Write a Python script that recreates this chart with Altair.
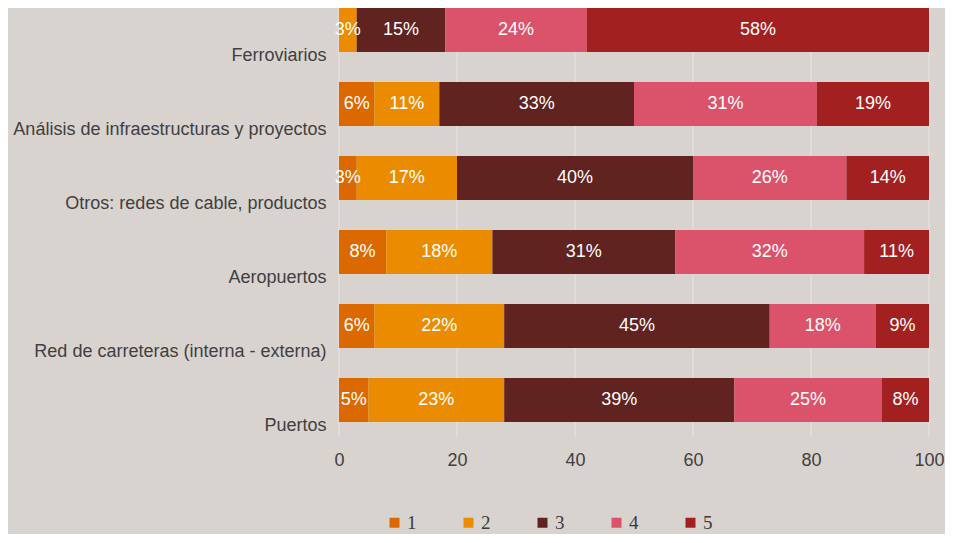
import altair as alt
import pandas as pd

categories = [
    "Ferroviarios",
    "Análisis de infraestructuras y proyectos",
    "Otros: redes de cable, productos",
    "Aeropuertos",
    "Red de carreteras (interna - externa)",
    "Puertos",
]
series = ["1", "2", "3", "4", "5"]
s1 = [0, 6, 3, 8, 6, 5]
s2 = [3, 11, 17, 18, 22, 23]
s3 = [15, 33, 40, 31, 45, 39]
s4 = [24, 31, 26, 32, 18, 25]
s5 = [58, 19, 14, 11, 9, 8]
x_ticks = [0, 20, 40, 60, 80, 100]
colors = ["#dc6900", "#eb8c00", "#602320", "#db536a", "#a32020"]

rows = []
for si, (name, vals) in enumerate(zip(series, [s1, s2, s3, s4, s5])):
    for cat, v in zip(categories, vals):
        rows.append({"category": cat, "series": name, "order": si, "value": v})
df = pd.DataFrame(rows)
grid_df = pd.DataFrame({"t": x_ticks})

FONT = "Liberation Sans"

base = alt.Chart(df).transform_stack(
    stack="value", groupby=["category"], as_=["v0", "v1"],
    sort=[alt.SortField("order", order="ascending")]
)

y_enc = alt.Y(
    "category:N", sort=categories, title=None,
    scale=alt.Scale(paddingInner=0.405, paddingOuter=0),
    axis=alt.Axis(labelOffset=26, labelPadding=13, ticks=False, domain=False,
                  labelFontSize=18, labelFont=FONT, labelColor="#404040",
                  labelLimit=400, grid=False),
)

x_scale = alt.Scale(domain=[0, 100], nice=False)

grid = alt.Chart(grid_df).mark_rule(color="#e3dfdb", strokeWidth=1.5).encode(
    x=alt.X("t:Q", scale=x_scale),
    y=alt.value(0),
    y2=alt.value(429),
)

bars = base.mark_bar().encode(
    x=alt.X("v0:Q", scale=x_scale, title=None,
            axis=alt.Axis(values=x_ticks, grid=False, ticks=False, domain=False,
                          labelFlush=False, labelPadding=29, labelFontSize=18,
                          labelFont=FONT, labelColor="#404040")),
    x2="v1:Q",
    y=y_enc,
    color=alt.Color(
        "series:N", sort=series,
        scale=alt.Scale(domain=series, range=colors),
        legend=alt.Legend(
            title=None, orient="none", direction="horizontal",
            legendX=46, legendY=505, symbolType="square", symbolSize=100,
            symbolStrokeWidth=0, labelFont="Liberation Serif", labelFontSize=19,
            labelColor="#3a3a3a", columnPadding=42, labelOffset=3, padding=0,
        ),
    ),
    order=alt.Order("order:Q"),
)

labels = base.transform_filter("datum.value > 0").transform_calculate(
    mid="(datum.v0 + datum.v1) / 2",
    lab="datum.value + '%'",
).mark_text(color="white", fontSize=18, font=FONT, align="center",
            baseline="middle").encode(
    x=alt.X("mid:Q", scale=x_scale),
    y=alt.Y("category:N", sort=categories),
    text="lab:N",
)

chart = alt.layer(grid, bars, labels).properties(
    width=590, height=414,
    autosize=alt.AutoSizeParams(type="none"),
    padding={"left": 331, "top": 0, "right": 16, "bottom": 112},
    background="#d9d3cf",
).configure_view(stroke=None)

chart.save("out.html", embed_options={"renderer": "svg", "actions": False})
